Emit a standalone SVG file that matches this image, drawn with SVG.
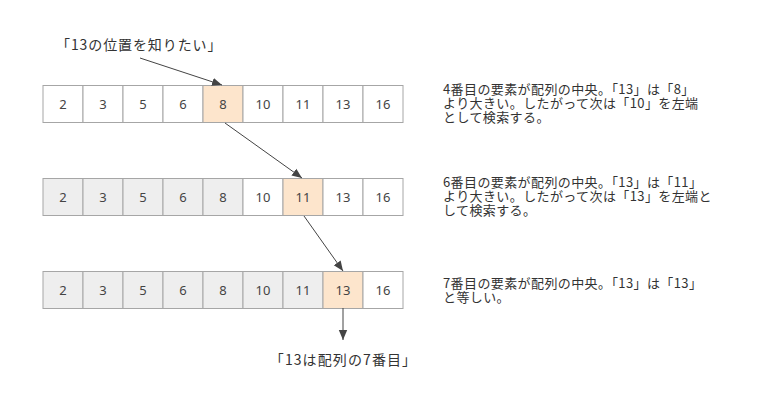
<svg xmlns="http://www.w3.org/2000/svg" width="776" height="400" viewBox="0 0 776 400">
<defs>
<marker id="ah" markerWidth="10" markerHeight="10" refX="10" refY="5" orient="auto" markerUnits="userSpaceOnUse">
<path d="M0,0.8 L10,5 L0,9.2 Z" fill="#444"/>
</marker>
<style>
.c{stroke:#a6a6a6;stroke-width:1;fill:#fff}
.g{fill:#eeeeee}
.h{fill:#fde5cc}
.n{font-family:"Noto Sans","Noto Sans CJK JP",sans-serif;font-size:13px;fill:#444;text-anchor:middle}
.t{font-family:"Noto Sans CJK JP","Noto Sans",sans-serif;font-size:13px;fill:#333;letter-spacing:0.4px}
.l{font-size:14px;letter-spacing:0.9px}
.e{stroke:#444;stroke-width:1;fill:none;marker-end:url(#ah)}
</style>
</defs>
<rect width="776" height="400" fill="#fff"/>

<g id="row1">
<rect class="c" x="43" y="85.5" width="40" height="37"/>
<rect class="c" x="83" y="85.5" width="40" height="37"/>
<rect class="c" x="123" y="85.5" width="40" height="37"/>
<rect class="c" x="163" y="85.5" width="40" height="37"/>
<rect class="c h" x="203" y="85.5" width="40" height="37"/>
<rect class="c" x="243" y="85.5" width="40" height="37"/>
<rect class="c" x="283" y="85.5" width="40" height="37"/>
<rect class="c" x="323" y="85.5" width="40" height="37"/>
<rect class="c" x="363" y="85.5" width="40" height="37"/>
<text class="n" x="63" y="108.5">2</text>
<text class="n" x="103" y="108.5">3</text>
<text class="n" x="143" y="108.5">5</text>
<text class="n" x="183" y="108.5">6</text>
<text class="n" x="223" y="108.5">8</text>
<text class="n" x="263" y="108.5">10</text>
<text class="n" x="303" y="108.5">11</text>
<text class="n" x="343" y="108.5">13</text>
<text class="n" x="383" y="108.5">16</text>
</g>

<g id="row2">
<rect class="c g" x="43" y="178.5" width="40" height="37"/>
<rect class="c g" x="83" y="178.5" width="40" height="37"/>
<rect class="c g" x="123" y="178.5" width="40" height="37"/>
<rect class="c g" x="163" y="178.5" width="40" height="37"/>
<rect class="c g" x="203" y="178.5" width="40" height="37"/>
<rect class="c" x="243" y="178.5" width="40" height="37"/>
<rect class="c h" x="283" y="178.5" width="40" height="37"/>
<rect class="c" x="323" y="178.5" width="40" height="37"/>
<rect class="c" x="363" y="178.5" width="40" height="37"/>
<text class="n" x="63" y="201.5">2</text>
<text class="n" x="103" y="201.5">3</text>
<text class="n" x="143" y="201.5">5</text>
<text class="n" x="183" y="201.5">6</text>
<text class="n" x="223" y="201.5">8</text>
<text class="n" x="263" y="201.5">10</text>
<text class="n" x="303" y="201.5">11</text>
<text class="n" x="343" y="201.5">13</text>
<text class="n" x="383" y="201.5">16</text>
</g>

<g id="row3">
<rect class="c g" x="43" y="271.5" width="40" height="37"/>
<rect class="c g" x="83" y="271.5" width="40" height="37"/>
<rect class="c g" x="123" y="271.5" width="40" height="37"/>
<rect class="c g" x="163" y="271.5" width="40" height="37"/>
<rect class="c g" x="203" y="271.5" width="40" height="37"/>
<rect class="c g" x="243" y="271.5" width="40" height="37"/>
<rect class="c g" x="283" y="271.5" width="40" height="37"/>
<rect class="c h" x="323" y="271.5" width="40" height="37"/>
<rect class="c" x="363" y="271.5" width="40" height="37"/>
<text class="n" x="63" y="294.5">2</text>
<text class="n" x="103" y="294.5">3</text>
<text class="n" x="143" y="294.5">5</text>
<text class="n" x="183" y="294.5">6</text>
<text class="n" x="223" y="294.5">8</text>
<text class="n" x="263" y="294.5">10</text>
<text class="n" x="303" y="294.5">11</text>
<text class="n" x="343" y="294.5">13</text>
<text class="n" x="383" y="294.5">16</text>
</g>

<g id="label-top">
<text class="t l" x="56" y="50">「13の位置を知りたい」</text>
</g>
<g id="label-bottom">
<text class="t l" x="343.5" y="365" style="text-anchor:middle;letter-spacing:1.1px">「13は配列の7番目」</text>
</g>

<g id="note1">
<text class="t" x="443" y="94">4番目の要素が配列の中央。「13」は「8」</text>
<text class="t" x="443" y="108">より大きい。したがって次は「10」を左端</text>
<text class="t" x="443" y="122">として検索する。</text>
</g>
<g id="note2">
<text class="t" x="443" y="187">6番目の要素が配列の中央。「13」は「11」</text>
<text class="t" x="443" y="201">より大きい。したがって次は「13」を左端と</text>
<text class="t" x="443" y="215">して検索する。</text>
</g>
<g id="note3">
<text class="t" x="443" y="288">7番目の要素が配列の中央。「13」は「13」</text>
<text class="t" x="443" y="302">と等しい。</text>
</g>

<g id="connectors">
<line class="e" x1="140" y1="58" x2="222" y2="85"/>
<line class="e" x1="225" y1="123" x2="302" y2="178"/>
<line class="e" x1="304" y1="216" x2="343" y2="271"/>
<line class="e" x1="343" y1="308" x2="343" y2="340"/>
</g>
</svg>
